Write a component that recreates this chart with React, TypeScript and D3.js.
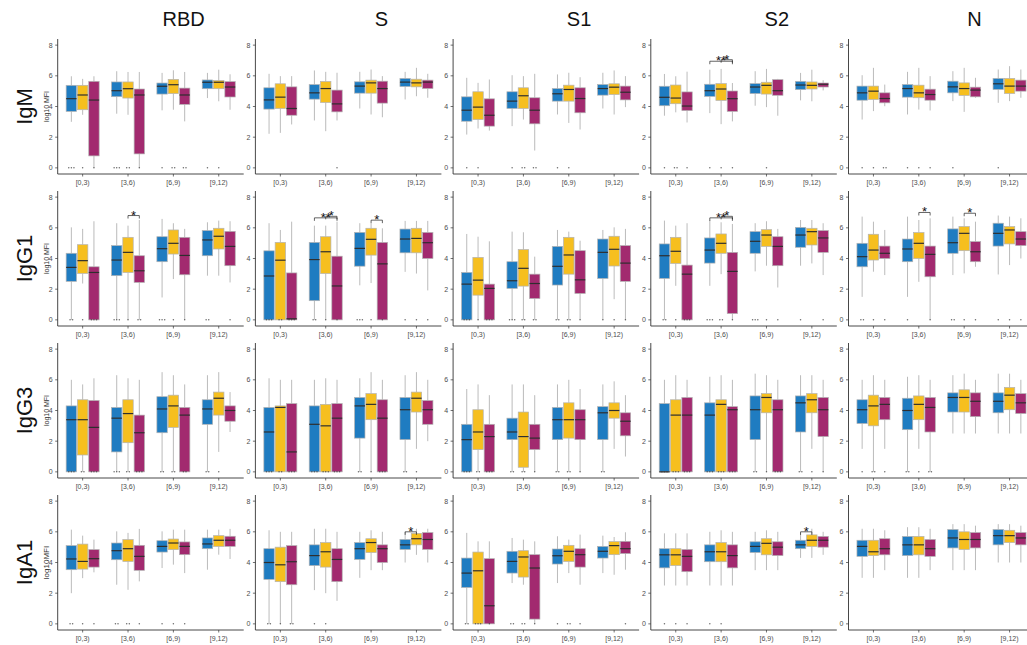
import React from "react";
import * as d3 from "d3";

const antigens = ["RBD", "S", "S1", "S2", "N"];
const isotypes = ["IgM", "IgG1", "IgG3", "IgA1"];
const bins = ["[0,3)", "[3,6)", "[6,9)", "[9,12)"];
const groups = ["g1", "g2", "g3"];
const groupColors = ["#1f7cc1", "#f6bf1f", "#a22a6f"];
const yTicks = [0, 2, 4, 6, 8];

// one row per box, bins in order, three groups per bin:
// [lower whisker, q1, median, q3, upper whisker] in log10 MFI
const RBD_IgM = [
  [3.0, 3.68, 4.51, 5.38, 5.97], [3.46, 3.79, 4.75, 5.38, 5.8], [0, 0.78, 4.42, 5.64, 5.97],
  [3.53, 4.64, 5.03, 5.6, 6.3], [3.46, 4.55, 5.16, 5.6, 6.25], [0, 0.91, 4.75, 5.14, 6.25],
  [3.75, 4.81, 5.32, 5.53, 6.19], [3.79, 4.84, 5.42, 5.77, 6.36], [3.03, 4.14, 4.75, 5.2, 6.25],
  [4.55, 5.16, 5.58, 5.73, 6.19], [4.34, 5.16, 5.58, 5.69, 6.4], [3.79, 4.62, 5.27, 5.62, 6.1],
];
const S_IgM = [
  [2.22, 3.83, 4.43, 5.22, 6.13], [2.28, 3.87, 4.61, 5.48, 5.98], [2.83, 3.43, 3.87, 5.28, 5.98],
  [3.09, 4.48, 4.89, 5.43, 6.35], [2.39, 4.26, 5.17, 5.63, 6.26], [3.09, 3.65, 4.17, 5.07, 6.2],
  [3.87, 4.87, 5.33, 5.61, 6.26], [3.48, 4.87, 5.54, 5.72, 6.41], [3.3, 4.22, 5.17, 5.65, 5.98],
  [4.46, 5.3, 5.59, 5.83, 6.26], [4.67, 5.28, 5.54, 5.78, 6.52], [4.57, 5.17, 5.59, 5.72, 6.13],
];
const S1_IgM = [
  [2.17, 3.04, 3.76, 4.63, 5.87], [2.57, 3.15, 3.96, 4.96, 5.54], [2.43, 2.72, 3.43, 4.5, 5.76],
  [2.72, 3.87, 4.35, 4.96, 6.04], [3.15, 3.87, 4.7, 5.22, 5.98], [1.13, 2.87, 3.76, 4.57, 6.13],
  [3.48, 4.35, 4.83, 5.17, 6.09], [2.93, 4.35, 5.11, 5.39, 6.2], [2.5, 3.59, 4.52, 5.22, 5.91],
  [3.87, 4.74, 5.17, 5.43, 6.2], [3.48, 4.78, 5.26, 5.48, 6.35], [3.96, 4.43, 4.93, 5.33, 5.98],
];
const S2_IgM = [
  [3.4, 4.05, 4.6, 5.32, 6.12], [3.62, 4.18, 4.55, 5.4, 5.97], [2.96, 3.73, 4.03, 4.95, 6.27],
  [3.57, 4.66, 5.03, 5.45, 6.4], [2.85, 4.4, 5.14, 5.49, 6.45], [3.03, 3.68, 4.51, 5.01, 5.53],
  [4.05, 4.84, 5.27, 5.49, 6.3], [3.96, 4.81, 5.38, 5.58, 6.45], [3.4, 4.73, 5.03, 5.75, 5.8],
  [4.4, 5.1, 5.4, 5.64, 6.19], [4.34, 5.14, 5.38, 5.6, 6.4], [5.05, 5.27, 5.45, 5.53, 5.71],
];
const N_IgM = [
  [3.15, 4.41, 4.89, 5.33, 6.04], [3.7, 4.46, 5.0, 5.33, 6.52], [4.02, 4.24, 4.52, 4.89, 5.43],
  [3.48, 4.61, 5.17, 5.43, 6.26], [3.8, 4.57, 4.89, 5.39, 6.52], [3.74, 4.41, 4.78, 5.13, 5.98],
  [4.35, 4.89, 5.28, 5.65, 6.3], [3.65, 4.72, 5.17, 5.54, 6.52], [4.57, 4.63, 5.07, 5.26, 5.87],
  [4.24, 5.11, 5.48, 5.83, 6.41], [4.35, 4.85, 5.33, 5.83, 6.63], [4.57, 5.0, 5.33, 5.72, 6.41],
];

const RBD_IgG1 = [
  [0, 2.51, 3.42, 4.34, 6.03], [2.37, 3.03, 3.86, 4.9, 5.93], [0, 0, 3.09, 3.46, 6.43],
  [0, 2.88, 3.9, 4.84, 6.3], [0, 3.09, 4.4, 5.38, 6.14], [0, 2.44, 3.2, 4.18, 6.51],
  [1.46, 3.79, 4.64, 5.42, 6.58], [2.66, 4.29, 4.99, 5.86, 6.3], [0, 2.94, 4.2, 5.38, 5.93],
  [2.88, 4.18, 5.21, 5.82, 6.36], [2.88, 4.62, 5.45, 5.97, 6.47], [2.44, 3.53, 4.79, 5.77, 6.43],
];
const S_IgG1 = [
  [0, 0, 2.86, 4.5, 6.3], [0, 0, 3.89, 5.05, 5.86], [0, 0, 0.07, 3.06, 6.4],
  [0, 1.25, 3.93, 5.05, 6.14], [0, 3.02, 4.44, 5.42, 6.14], [0, 0, 2.21, 4.15, 6.4],
  [2.25, 3.5, 4.66, 5.7, 6.3], [2.4, 4.22, 5.25, 5.97, 6.3], [0, 0, 3.65, 5.05, 5.97],
  [3.13, 4.37, 5.27, 5.92, 6.45], [3.02, 4.37, 5.31, 5.97, 6.45], [1.92, 4.0, 5.03, 5.7, 6.45],
];
const S1_IgG1 = [
  [0, 0, 2.33, 3.09, 5.6], [0, 1.61, 2.59, 4.07, 5.42], [0, 0, 2.05, 2.33, 5.12],
  [0, 2.05, 2.55, 3.79, 5.75], [0, 2.2, 3.36, 4.58, 5.71], [0, 1.39, 2.37, 2.98, 4.12],
  [0, 2.27, 3.49, 4.79, 5.86], [0, 2.98, 4.23, 5.38, 5.75], [0, 1.72, 2.61, 4.51, 5.16],
  [0, 2.7, 4.4, 5.27, 5.86], [1.35, 3.51, 4.6, 5.45, 6.03], [0, 2.51, 3.7, 4.84, 5.93],
];
const S2_IgG1 = [
  [0, 2.7, 4.18, 4.95, 6.47], [2.22, 3.68, 4.47, 5.38, 6.14], [0, 0, 2.98, 3.57, 6.3],
  [2.22, 3.7, 4.55, 5.34, 6.51], [2.98, 4.34, 4.99, 5.6, 6.36], [0, 0.41, 3.16, 4.4, 6.25],
  [3.16, 4.34, 5.12, 5.75, 6.3], [3.53, 4.79, 5.53, 5.88, 6.43], [2.11, 3.53, 4.79, 5.42, 5.93],
  [3.53, 4.73, 5.53, 6.03, 6.51], [3.68, 4.88, 5.75, 5.97, 6.51], [2.92, 4.4, 5.34, 5.82, 6.3],
];
const N_IgG1 = [
  [1.5, 3.46, 4.12, 4.99, 6.73], [3.14, 3.9, 4.55, 5.58, 6.4], [2.92, 4.0, 4.34, 4.81, 5.86],
  [1.5, 3.79, 4.62, 5.27, 6.73], [2.48, 4.0, 4.99, 5.69, 6.51], [0, 2.81, 4.27, 4.81, 6.62],
  [2.92, 4.34, 5.03, 5.93, 6.73], [3.03, 4.51, 5.64, 6.08, 6.62], [3.46, 3.79, 4.44, 5.1, 6.4],
  [2.96, 4.81, 5.64, 6.3, 6.8], [3.57, 4.95, 5.86, 6.08, 6.73], [4.0, 4.84, 5.27, 5.75, 6.62],
];

const RBD_IgG3 = [
  [0, 0, 3.4, 4.3, 6.0], [0, 1.1, 3.4, 4.7, 5.7], [0, 0, 2.9, 4.65, 6.1],
  [0, 1.3, 3.5, 4.2, 6.3], [0, 1.9, 3.8, 4.7, 6.1], [0, 0, 2.55, 3.7, 6.0],
  [0, 2.55, 4.1, 4.9, 6.5], [0, 2.9, 4.3, 5.0, 6.3], [0, 0, 3.7, 4.2, 5.7],
  [0, 3.1, 4.1, 4.7, 6.3], [1.3, 3.7, 4.8, 5.2, 6.5], [2.6, 3.3, 4.0, 4.3, 5.2],
];
const S_IgG3 = [
  [0, 0, 2.6, 4.2, 6.1], [0, 0, 4.2, 4.3, 6.0], [0, 0, 1.3, 4.45, 6.0],
  [0, 0, 3.1, 4.3, 6.0], [0, 0, 3.0, 4.4, 6.1], [0, 0, 3.5, 4.45, 6.0],
  [0, 2.2, 4.3, 4.85, 6.1], [0, 3.4, 4.4, 5.1, 6.5], [0, 0, 3.5, 4.7, 6.0],
  [0, 2.1, 4.05, 4.85, 6.3], [1.5, 3.9, 4.8, 5.2, 6.5], [2.0, 3.1, 4.05, 4.65, 6.0],
];
const S1_IgG3 = [
  [0, 0, 2.1, 3.1, 5.4], [0, 1.45, 2.6, 4.05, 5.7], [0, 0, 2.3, 3.1, 5.0],
  [0, 2.1, 2.6, 3.5, 5.7], [0, 0.3, 2.3, 3.9, 5.7], [0, 1.45, 2.2, 3.1, 5.0],
  [0, 2.1, 3.4, 4.2, 5.7], [0, 2.2, 3.4, 4.5, 6.0], [0, 2.1, 3.4, 4.05, 5.4],
  [0, 2.1, 3.85, 4.25, 5.7], [1.5, 3.5, 4.0, 4.5, 5.9], [1.0, 2.35, 3.3, 3.85, 5.0],
];
const S2_IgG3 = [
  [0, 0, 0, 4.45, 6.0], [0, 0, 3.7, 4.7, 6.3], [0, 0, 3.7, 4.85, 6.0],
  [0, 0, 3.7, 4.5, 6.2], [0, 0, 4.4, 4.7, 6.3], [0, 0, 4.05, 4.25, 6.0],
  [0, 2.1, 4.05, 4.95, 6.4], [0, 3.85, 4.85, 5.1, 6.3], [0, 0, 4.05, 4.7, 6.0],
  [0, 2.6, 4.5, 4.95, 6.3], [1.5, 3.85, 4.7, 5.1, 6.3], [0, 2.3, 4.05, 4.85, 6.0],
];
const N_IgG3 = [
  [1.5, 3.15, 4.05, 4.7, 6.0], [0, 3.0, 4.3, 5.0, 6.3], [1.5, 3.4, 4.4, 4.85, 6.0],
  [0, 2.75, 4.0, 4.8, 6.2], [1.5, 3.4, 4.4, 4.95, 6.3], [0, 2.6, 4.2, 4.85, 6.0],
  [2.5, 3.9, 4.85, 5.15, 6.3], [2.5, 3.9, 4.85, 5.35, 6.4], [2.5, 3.6, 4.6, 5.15, 6.0],
  [2.5, 3.85, 4.6, 5.15, 6.4], [2.5, 4.05, 5.0, 5.5, 6.4], [2.5, 3.8, 4.5, 5.1, 6.0],
];

const RBD_IgA1 = [
  [2.0, 3.53, 4.23, 5.1, 6.14], [2.98, 3.57, 4.07, 5.2, 5.75], [3.36, 3.7, 4.25, 4.84, 5.49],
  [2.55, 4.18, 4.77, 5.27, 6.03], [2.22, 4.07, 4.9, 5.49, 5.93], [2.77, 3.49, 4.4, 5.12, 6.19],
  [3.64, 4.68, 5.05, 5.42, 6.03], [3.86, 4.84, 5.27, 5.53, 6.14], [3.31, 4.51, 5.05, 5.34, 6.14],
  [3.53, 4.9, 5.21, 5.6, 6.14], [4.51, 5.05, 5.45, 5.75, 6.14], [4.23, 5.05, 5.45, 5.71, 6.19],
];
const S_IgA1 = [
  [0, 2.9, 4.0, 4.9, 6.1], [0, 2.75, 3.85, 5.0, 6.0], [0, 2.55, 4.05, 5.1, 6.0],
  [2.2, 3.8, 4.45, 5.15, 6.2], [2.0, 3.7, 4.7, 5.3, 6.2], [1.5, 2.75, 4.2, 4.9, 6.0],
  [3.0, 4.2, 4.9, 5.3, 6.0], [3.5, 4.65, 5.3, 5.55, 6.1], [3.5, 4.0, 4.9, 5.15, 6.0],
  [4.0, 4.85, 5.15, 5.5, 6.0], [4.5, 5.15, 5.55, 5.9, 6.2], [4.0, 4.85, 5.5, 5.95, 6.2],
];
const S1_IgA1 = [
  [0, 2.37, 3.31, 4.29, 5.93], [0, 0, 3.46, 4.68, 5.38], [0, 0, 1.18, 4.25, 5.38],
  [2.66, 3.31, 4.07, 4.73, 5.6], [2.55, 3.05, 4.36, 4.77, 5.49], [0, 0.31, 3.64, 4.51, 5.38],
  [2.66, 3.9, 4.44, 4.88, 5.71], [3.31, 4.07, 4.73, 5.12, 5.49], [2.55, 3.7, 4.51, 4.9, 5.82],
  [3.31, 4.29, 4.73, 5.05, 5.75], [3.2, 4.51, 5.1, 5.36, 5.66], [3.53, 4.58, 4.9, 5.38, 5.97],
];
const S2_IgA1 = [
  [2.5, 3.65, 4.5, 4.9, 5.9], [2.5, 3.8, 4.5, 4.9, 5.9], [2.5, 3.4, 4.4, 4.85, 5.9],
  [2.5, 4.05, 4.7, 5.15, 6.0], [2.5, 4.05, 4.7, 5.3, 6.1], [2.5, 3.65, 4.45, 5.15, 6.0],
  [3.5, 4.65, 5.05, 5.35, 6.0], [3.5, 4.5, 5.25, 5.55, 6.1], [3.5, 4.45, 5.0, 5.35, 6.0],
  [4.3, 4.9, 5.15, 5.45, 5.9], [4.3, 5.05, 5.45, 5.8, 6.2], [4.5, 5.0, 5.45, 5.7, 6.0],
];
const N_IgA1 = [
  [3.0, 4.4, 5.05, 5.45, 6.2], [3.0, 4.45, 4.7, 5.45, 6.2], [3.5, 4.5, 4.9, 5.55, 6.1],
  [3.0, 4.45, 5.15, 5.7, 6.3], [3.0, 4.5, 5.15, 5.7, 6.3], [3.5, 4.4, 4.9, 5.5, 6.2],
  [3.5, 4.95, 5.6, 6.15, 6.5], [3.5, 4.85, 5.5, 6.0, 6.5], [3.5, 4.95, 5.5, 5.95, 6.4],
  [4.0, 5.15, 5.75, 6.15, 6.5], [4.0, 5.3, 5.75, 6.1, 6.5], [4.0, 5.15, 5.6, 5.95, 6.4],
];

// number of samples sitting at 0 (below detection) per box, same order as the stats
const zeros_IgM = [
  [3, 1, 1, 3, 2, 1, 1, 2, 2, 1, 1, 0],
  [0, 0, 0, 0, 0, 1, 0, 0, 0, 0, 0, 0],
  [1, 1, 0, 1, 2, 2, 1, 1, 0, 0, 0, 0],
  [1, 2, 1, 1, 1, 1, 0, 1, 0, 0, 0, 0],
  [1, 1, 2, 1, 1, 1, 1, 0, 0, 1, 0, 0],
];
const zeros_IgG1 = [
  [2, 1, 3, 3, 1, 2, 3, 1, 1, 2, 0, 1],
  [3, 2, 3, 2, 1, 1, 3, 1, 1, 1, 1, 1],
  [3, 1, 3, 3, 2, 2, 2, 2, 1, 1, 1, 1],
  [2, 1, 3, 3, 2, 1, 3, 1, 1, 1, 0, 1],
  [2, 1, 1, 1, 0, 1, 2, 1, 1, 1, 1, 1],
];
const zeros_IgG3 = [
  [3, 2, 3, 3, 2, 3, 2, 2, 2, 2, 1, 0],
  [3, 2, 3, 3, 3, 3, 2, 1, 3, 2, 1, 0],
  [3, 2, 3, 2, 2, 1, 2, 2, 1, 2, 0, 0],
  [3, 3, 3, 3, 3, 3, 2, 1, 3, 2, 1, 1],
  [1, 2, 1, 2, 1, 2, 0, 0, 0, 0, 0, 0],
];
const zeros_IgA1 = [
  [2, 1, 1, 2, 2, 1, 1, 1, 1, 0, 0, 0],
  [2, 1, 2, 1, 1, 0, 0, 0, 0, 0, 0, 0],
  [2, 3, 1, 2, 2, 1, 1, 2, 1, 0, 0, 1],
  [1, 1, 1, 1, 1, 0, 0, 0, 0, 0, 0, 0],
  [0, 0, 0, 0, 0, 0, 0, 0, 0, 0, 0, 0],
];

// significance brackets: row, column, bin, from group, to group, height, label
const brackets = [
  { iso: "IgM", ag: "S2", bin: "[3,6)", a: 0, b: 2, y: 6.95, label: "**" },
  { iso: "IgM", ag: "S2", bin: "[3,6)", a: 1, b: 2, y: 7.05, label: "*" },
  { iso: "IgG1", ag: "RBD", bin: "[3,6)", a: 1, b: 2, y: 6.8, label: "*" },
  { iso: "IgG1", ag: "S", bin: "[3,6)", a: 0, b: 2, y: 6.65, label: "**" },
  { iso: "IgG1", ag: "S", bin: "[3,6)", a: 1, b: 2, y: 6.75, label: "*" },
  { iso: "IgG1", ag: "S", bin: "[6,9)", a: 1, b: 2, y: 6.5, label: "*" },
  { iso: "IgG1", ag: "S2", bin: "[3,6)", a: 0, b: 2, y: 6.65, label: "**" },
  { iso: "IgG1", ag: "S2", bin: "[3,6)", a: 1, b: 2, y: 6.75, label: "*" },
  { iso: "IgG1", ag: "N", bin: "[3,6)", a: 1, b: 2, y: 7.0, label: "*" },
  { iso: "IgG1", ag: "N", bin: "[6,9)", a: 1, b: 2, y: 6.95, label: "*" },
  { iso: "IgA1", ag: "S", bin: "[9,12)", a: 0, b: 1, y: 6.0, label: "*" },
  { iso: "IgA1", ag: "S2", bin: "[9,12)", a: 0, b: 1, y: 6.0, label: "*" },
];

const panelData = {
  IgM: [RBD_IgM, S_IgM, S1_IgM, S2_IgM, N_IgM],
  IgG1: [RBD_IgG1, S_IgG1, S1_IgG1, S2_IgG1, N_IgG1],
  IgG3: [RBD_IgG3, S_IgG3, S1_IgG3, S2_IgG3, N_IgG3],
  IgA1: [RBD_IgA1, S_IgA1, S1_IgA1, S2_IgA1, N_IgA1],
};
const zeroData = { IgM: zeros_IgM, IgG1: zeros_IgG1, IgG3: zeros_IgG3, IgA1: zeros_IgA1 };

const W = 1027;
const H = 645;
const panelW = 186;
const panelH = 135;
const font = "'Liberation Sans', Arial, sans-serif";

function Panel({ stats, zeros, iso, ag, x0, top, first }) {
  const x = d3.scalePoint().domain(bins).range([0, panelW]).padding(0.55);
  const dodge = d3.scaleBand().domain(groups).range([-16.5, 16.5]).paddingInner(0.08);
  const y = d3.scaleLinear().domain([-0.4, 8.4]).range([panelH, 0]);
  const bw = dodge.bandwidth();
  const marks = brackets.filter((b) => b.iso === iso && b.ag === ag);

  return (
    <g transform={`translate(${x0},${top})`}>
      {stats.map((s, i) => {
        const bin = bins[Math.floor(i / 3)];
        const g = groups[i % 3];
        const cx = x(bin) + dodge(g) + bw / 2;
        const [lo, q1, med, q3, hi] = s;
        const nz = zeros[i];
        return (
          <g key={i}>
            <line x1={cx} x2={cx} y1={y(hi)} y2={y(q3)} stroke="#a9a9a9" strokeWidth={0.8} />
            <line x1={cx} x2={cx} y1={y(q1)} y2={y(lo)} stroke="#a9a9a9" strokeWidth={0.8} />
            <rect
              x={cx - bw / 2}
              y={y(q3)}
              width={bw}
              height={Math.max(0.5, y(q1) - y(q3))}
              fill={groupColors[i % 3]}
              stroke="#b3b3b3"
              strokeWidth={0.7}
            />
            <line x1={cx - bw / 2} x2={cx + bw / 2} y1={y(med)} y2={y(med)} stroke="#2e2e2e" strokeWidth={1.2} />
            {d3.range(nz).map((j) => (
              <circle key={j} cx={cx + (j - (nz - 1) / 2) * 2.6} cy={y(0)} r={0.75} fill="#3a3a3a" opacity={0.75} />
            ))}
          </g>
        );
      })}
      {marks.map((m, k) => {
        const xa = x(m.bin) + dodge(groups[m.a]) + bw / 2;
        const xb = x(m.bin) + dodge(groups[m.b]) + bw / 2;
        const yy = y(m.y);
        return (
          <g key={"b" + k}>
            <path d={`M${xa},${yy + 3}V${yy}H${xb}V${yy + 3}`} fill="none" stroke="#222" strokeWidth={0.7} />
            <text x={(xa + xb) / 2} y={yy + 4} textAnchor="middle" fontSize={13} fontFamily={font} fill="#111">
              {m.label}
            </text>
          </g>
        );
      })}
      <line x1={0} x2={0} y1={0} y2={panelH} stroke="#333" strokeWidth={0.9} />
      <line x1={0} x2={panelW} y1={panelH} y2={panelH} stroke="#333" strokeWidth={0.9} />
      {yTicks.map((t) => (
        <g key={"y" + t}>
          <line x1={-2.5} x2={0} y1={y(t)} y2={y(t)} stroke="#333" strokeWidth={0.7} />
          <text x={-5} y={y(t) + 2.5} textAnchor="end" fontSize={7} fontFamily={font} fill="#4d4d4d">
            {t}
          </text>
        </g>
      ))}
      {bins.map((b) => (
        <g key={b}>
          <line x1={x(b)} x2={x(b)} y1={panelH} y2={panelH + 2.5} stroke="#333" strokeWidth={0.7} />
          <text x={x(b)} y={panelH + 11} textAnchor="middle" fontSize={7} fontFamily={font} fill="#4d4d4d">
            {b}
          </text>
        </g>
      ))}
      {first && (
        <text
          transform={`translate(-9,${panelH / 2}) rotate(-90)`}
          textAnchor="middle"
          fontSize={iso === "IgA1" ? 8 : 7}
          fontFamily={font}
          fill="#333"
        >
          {iso === "IgA1" ? "log10MFI" : "log10 MFI"}
        </text>
      )}
    </g>
  );
}

export default function App() {
  const colX = antigens.map((_, i) => 57.7 + i * 197.7);
  const rowY = isotypes.map((_, i) => 39 + i * 152);
  return (
    <svg width={W} height={H} style={{ position: "absolute", left: 0, top: 0, background: "#fff" }}>
      <rect width={W} height={H} fill="#fff" />
      {antigens.map((ag, c) => (
        <text key={ag} x={colX[c] + 126} y={26} textAnchor="middle" fontSize={20} fontFamily={font} fill="#111">
          {ag}
        </text>
      ))}
      {isotypes.map((iso, r) => (
        <text
          key={iso}
          transform={`translate(32,${rowY[r] + panelH / 2}) rotate(-90)`}
          textAnchor="middle"
          fontSize={22}
          fontFamily={font}
          fill="#111"
        >
          {iso}
        </text>
      ))}
      {isotypes.map((iso, r) =>
        antigens.map((ag, c) => (
          <Panel
            key={iso + ag}
            stats={panelData[iso][c]}
            zeros={zeroData[iso][c]}
            iso={iso}
            ag={ag}
            x0={colX[c]}
            top={rowY[r]}
            first={c === 0}
          />
        ))
      )}
    </svg>
  );
}
